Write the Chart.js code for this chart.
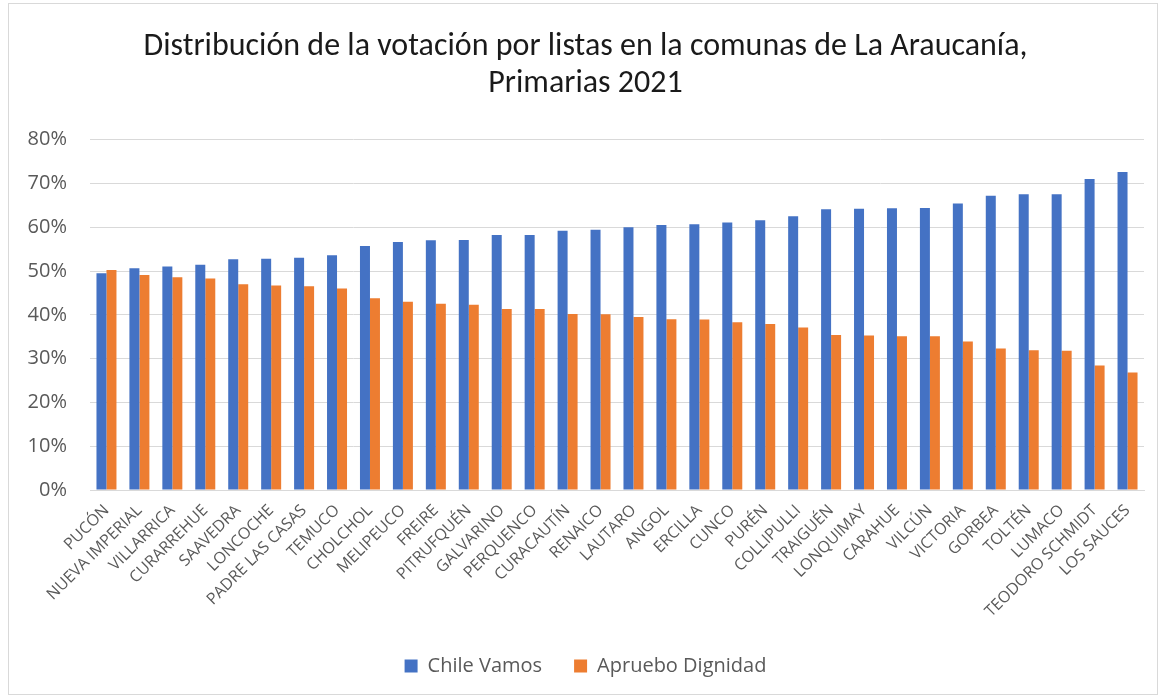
<!DOCTYPE html>
<html>
<head>
<meta charset="utf-8">
<script src="https://cdn.jsdelivr.net/npm/chart.js@4.4.0/dist/chart.umd.min.js"></script>
<style>
  html, body { margin: 0; padding: 0; background: #fff; }
  #wrap { position: absolute; left: 0; top: 0; width: 1161px; height: 698px; }
  #frame { position: absolute; left: 8px; top: 3px; width: 1150px; height: 692px; border: 1px solid #d9d9d9; box-sizing: border-box; pointer-events: none; }
</style>
</head>
<body>
<div id="wrap">
  <canvas id="c" width="1161" height="698"></canvas>
  <div id="frame"></div>
</div>
<script>
const categories = ["PUCÓN","NUEVA IMPERIAL","VILLARRICA","CURARREHUE","SAAVEDRA","LONCOCHE","PADRE LAS CASAS","TEMUCO","CHOLCHOL","MELIPEUCO","FREIRE","PITRUFQUÉN","GALVARINO","PERQUENCO","CURACAUTÍN","RENAICO","LAUTARO","ANGOL","ERCILLA","CUNCO","PURÉN","COLLIPULLI","TRAIGUÉN","LONQUIMAY","CARAHUE","VILCÚN","VICTORIA","GORBEA","TOLTÉN","LUMACO","TEODORO SCHMIDT","LOS SAUCES"];
const chileVamos = [49.5,50.6,51.0,51.4,52.7,52.8,53.0,53.6,55.7,56.6,57.0,57.1,58.2,58.2,59.2,59.4,60.0,60.5,60.7,61.1,61.6,62.5,64.1,64.2,64.3,64.4,65.4,67.2,67.5,67.5,71.0,72.6];
const aprueboDignidad = [50.2,49.1,48.6,48.3,47.0,46.7,46.5,46.0,43.8,43.0,42.5,42.3,41.3,41.3,40.2,40.1,39.5,39.0,38.9,38.3,37.9,37.1,35.4,35.3,35.1,35.1,33.9,32.3,31.9,31.8,28.4,26.8];
const seriesNames = ["Chile Vamos","Apruebo Dignidad"];
const titleLines = ["Distribución de la votación por listas en la comunas de La Araucanía,","Primarias 2021"];
const yTicks = [0,10,20,30,40,50,60,70,80];

new Chart(document.getElementById('c'), {
  type: 'bar',
  data: {
    labels: categories,
    datasets: [
      { label: seriesNames[0], data: chileVamos, backgroundColor: '#4472C4', borderWidth: 0 },
      { label: seriesNames[1], data: aprueboDignidad, backgroundColor: '#ED7D31', borderWidth: 0 }
    ]
  },
  options: {
    responsive: false,
    animation: false,
    layout: { padding: { left: 27, right: 17, top: 0, bottom: 12 } },
    plugins: {
      title: {
        display: true,
        text: titleLines,
        color: '#1a1a1a',
        font: { family: 'Carlito, Calibri, "Liberation Sans", sans-serif', size: 32, weight: 'normal', lineHeight: 1.15 },
        padding: { top: 29, bottom: 37 }
      },
      legend: {
        position: 'bottom',
        labels: {
          color: '#595959',
          font: { family: '"Open Sans", sans-serif', size: 20 },
          boxWidth: 13, boxHeight: 13, padding: 32
        }
      },
      tooltip: { enabled: false }
    },
    datasets: { bar: { categoryPercentage: 0.607, barPercentage: 1.0 } },
    scales: {
      x: {
        afterFit: (s) => { s.height = 134; },
        grid: { display: false },
        border: { display: true, color: '#d9d9d9' },
        ticks: { color: '#595959', font: { family: '"Open Sans", sans-serif', size: 16 }, maxRotation: 45, minRotation: 45, autoSkip: false, padding: 3 }
      },
      y: {
        min: 0, max: 80,
        afterFit: (s) => { s.width = 63; },
        afterBuildTicks: (s) => { s.ticks = yTicks.map(v => ({ value: v })); },
        grid: { color: '#d9d9d9', lineWidth: 1, drawTicks: false },
        border: { display: false },
        ticks: { color: '#595959', font: { family: '"Open Sans", sans-serif', size: 20 }, padding: 23, callback: (v) => v + '%' }
      }
    }
  }
});
</script>
</body>
</html>
